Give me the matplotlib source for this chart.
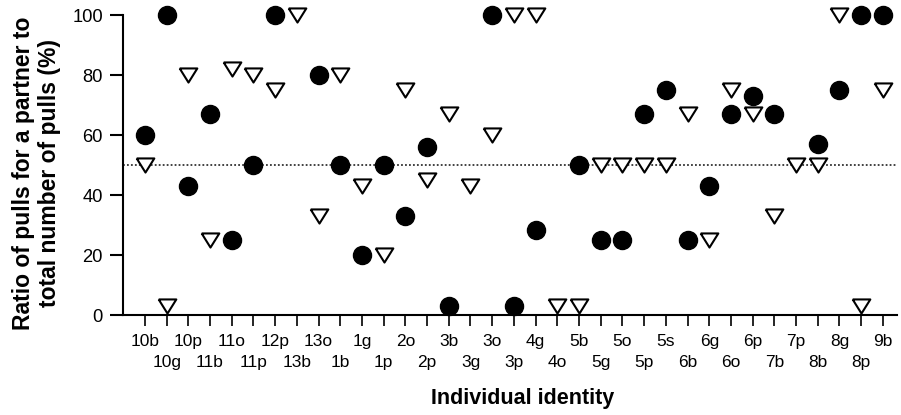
import matplotlib.pyplot as plt
import numpy as np

# Data
ids = ['10b', '10g', '10p', '11b', '11o', '11p', '12p', '13b', '13o', '1b',
       '1g', '1p', '2o', '2p', '3b', '3g', '3o', '3p', '4g', '4o',
       '5b', '5g', '5o', '5p', '5s', '6b', '6g', '6o', '6p', '7b',
       '7p', '8b', '8g', '8p', '9b']
circle_vals = [60, 100, 43, 67, 25, 50, 100, np.nan, 80, 50,
               20, 50, 33, 56, 3, np.nan, 100, 3, 28.5, np.nan,
               50, 25, 25, 67, 75, 25, 43, 67, 73, 67,
               np.nan, 57, 75, 100, 100]
triangle_vals = [50, 3, 80, 25, 82, 80, 75, 100, 33, 80,
                 43, 20, 75, 45, 67, 43, 60, 100, 100, 3,
                 3, 50, 50, 50, 50, 67, 25, 75, 67, 33,
                 50, 50, 100, 3, 75]
y_ticks = [0, 20, 40, 60, 80, 100]
chance_level = 50

plt.rcParams['font.family'] = 'Liberation Sans'

fig = plt.figure(figsize=(9.01, 4.15), dpi=100)
ax = fig.add_axes([123 / 901, 100 / 415, (897 - 123) / 901, 300 / 415])

x = np.arange(len(ids))

# dotted 50% reference line
ax.axhline(chance_level, color='#333333', linestyle=(0, (1, 1.2)), linewidth=1.3, zorder=1)

# squashed downward triangle like the original
tri = [(-1, 0.8), (1, 0.8), (0, -0.8), (-1, 0.8)]
ax.plot(x, triangle_vals, linestyle='none', marker=tri, markersize=12.7,
        markerfacecolor='white', markeredgecolor='black', markeredgewidth=1.5,
        clip_on=False, zorder=3)
ax.plot(x, circle_vals, linestyle='none', marker='o', markersize=13,
        markerfacecolor='black', markeredgecolor='black', clip_on=False, zorder=4)

ax.set_xlim(-1.01, 34.65)
ax.set_ylim(0, 100)

# two rows of tick labels: even ids on major ticks, odd ids on minor ticks
ax.set_xticks(x[::2])
ax.set_xticklabels(ids[::2], fontsize=12.5)
ax.set_xticks(x[1::2], minor=True)
ax.set_xticklabels(ids[1::2], minor=True, fontsize=12.5)
ax.set_yticks(y_ticks)
ax.set_yticklabels([str(v) for v in y_ticks], fontsize=13.2)

ax.tick_params(axis='x', which='major', direction='out', length=8, width=1.2, pad=6)
ax.tick_params(axis='x', which='minor', direction='out', length=8, width=1.2, pad=21)
ax.tick_params(axis='y', direction='out', length=9.5, width=1.5, pad=5)

for side in ['top', 'right']:
    ax.spines[side].set_visible(False)
ax.spines['left'].set_linewidth(1.5)
ax.spines['bottom'].set_linewidth(1.5)

fig.text(36.5 / 901, 1 - 173 / 415, 'Ratio of pulls for a partner to\ntotal number of pulls (%)',
         rotation=90, ha='center', va='center', multialignment='center',
         fontsize=16.5, fontweight='bold', linespacing=1.2)
fig.text(523 / 901, 1 - 398 / 415, 'Individual identity', ha='center', va='center',
         fontsize=15.5, fontweight='bold')

fig.savefig('out.png', dpi=100)
